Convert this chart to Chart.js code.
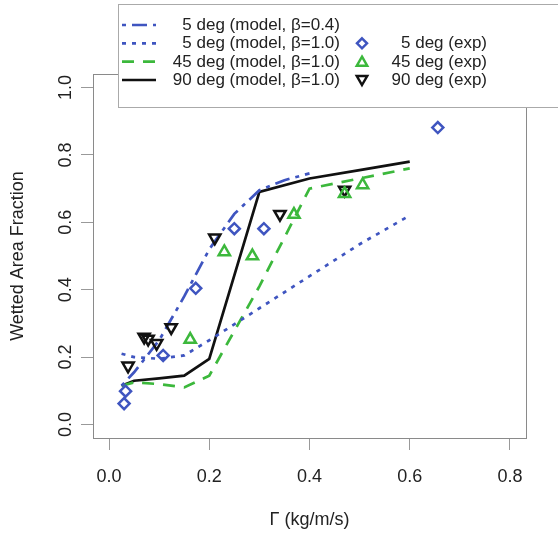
<!DOCTYPE html>
<html><head><meta charset="utf-8">
<script src="https://cdn.jsdelivr.net/npm/chart.js@4.4.1/dist/chart.umd.min.js"></script>
<style>
html,body{margin:0;padding:0;background:#fff;overflow:hidden;}
#wrap{position:relative;width:558px;height:533px;}
#c{position:absolute;left:0;top:0;}
#legbox{position:absolute;left:118px;top:4px;width:460px;height:102px;border:1px solid #aaa;background:#fff;}
.lt{position:absolute;white-space:nowrap;line-height:18px;height:18px;font-family:"Liberation Sans",Arial,sans-serif;font-size:17px;color:#222;text-align:right;width:260px;}
#legsvg{position:absolute;left:0;top:0;}
</style></head>
<body><div id="wrap"><canvas id="c" width="558" height="533"></canvas><div id="legbox"></div><svg id="legsvg" width="558" height="120"></svg></div>
<script>
// ---------- data ----------
const xTickValues = [0.0, 0.2, 0.4, 0.6, 0.8];
const yTickValues = [0.0, 0.2, 0.4, 0.6, 0.8, 1.0];

// model curves (Γ grid)
const modelGamma = [0.025, 0.05, 0.1, 0.15, 0.2, 0.3, 0.4, 0.5, 0.6];
const model5degB04Gamma = [0.025, 0.05, 0.1, 0.15, 0.2, 0.25, 0.3, 0.35, 0.4];
const model5degB04 = [0.115, 0.155, 0.25, 0.38, 0.52, 0.625, 0.695, 0.725, 0.745];
const model5degB10 = [0.21, 0.20, 0.195, 0.205, 0.25, 0.345, 0.44, 0.535, 0.62];
const model45degB10 = [0.115, 0.125, 0.12, 0.11, 0.145, 0.41, 0.70, 0.73, 0.76];
const model90degB10 = [0.115, 0.13, 0.137, 0.145, 0.195, 0.69, 0.73, 0.755, 0.78];

// experiments
const exp5degGamma = [0.030, 0.033, 0.108, 0.173, 0.250, 0.309, 0.656];
const exp5deg      = [0.062, 0.099, 0.205, 0.404, 0.581, 0.581, 0.881];
const exp45degGamma = [0.162, 0.230, 0.286, 0.369, 0.470, 0.506];
const exp45deg      = [0.252, 0.512, 0.500, 0.623, 0.685, 0.711];
const exp90degGamma = [0.038, 0.070, 0.078, 0.095, 0.124, 0.211, 0.341, 0.470];
const exp90deg      = [0.174, 0.260, 0.254, 0.241, 0.288, 0.554, 0.624, 0.696];

const legendLineLabels = ["5 deg (model, \u03b2=0.4)", "5 deg (model, \u03b2=1.0)", "45 deg (model, \u03b2=1.0)", "90 deg (model, \u03b2=1.0)"];
const legendPointLabels = ["5 deg (exp)", "45 deg (exp)", "90 deg (exp)"];

// ---------- styles ----------
const BLUE = '#3f55c0', GREEN = '#3cb83c', BLACK = '#111111';
const DASH_DOTDASH = [4, 6, 15, 6], DASH_DOT = [4, 6], DASH_LONG = [12, 9];

const pts = (xs, ys) => xs.map((x, i) => ({x: x, y: ys[i]}));
const lineDs = (label, xs, ys, color, dash) => ({label, data: pts(xs, ys), showLine: true, pointRadius: 0,
  borderColor: color, borderWidth: 2.7, borderDash: dash, fill: false, tension: 0, order: 2});
const ptDs = (label, xs, ys, color, style, r, rot) => ({label, data: pts(xs, ys), showLine: false,
  pointStyle: style, pointRadius: r, pointRotation: rot, borderColor: color, pointBorderWidth: 2.5,
  pointBackgroundColor: 'rgba(0,0,0,0)', backgroundColor: 'rgba(0,0,0,0)', order: 1});

const boxPlugin = {
  id: 'box',
  afterDraw(chart) {
    const {ctx, chartArea: a} = chart;
    ctx.save();
    ctx.strokeStyle = '#8a8a8a';
    ctx.lineWidth = 1;
    ctx.strokeRect(Math.round(a.left) + 0.5, Math.round(a.top) + 0.5, Math.round(a.right - a.left), Math.round(a.bottom - a.top));
    ctx.restore();
  }
};

const font = {family: '"Liberation Sans", Arial, sans-serif', size: 18};

new Chart(document.getElementById('c'), {
  type: 'scatter',
  data: {
    datasets: [
      lineDs(legendLineLabels[0], model5degB04Gamma, model5degB04, BLUE, DASH_DOTDASH),
      lineDs(legendLineLabels[1], modelGamma, model5degB10, BLUE, DASH_DOT),
      lineDs(legendLineLabels[2], modelGamma, model45degB10, GREEN, DASH_LONG),
      lineDs(legendLineLabels[3], modelGamma, model90degB10, BLACK, []),
      ptDs(legendPointLabels[0], exp5degGamma, exp5deg, BLUE, 'rectRot', 5.5, 0),
      ptDs(legendPointLabels[1], exp45degGamma, exp45deg, GREEN, 'triangle', 6.5, 0),
      ptDs(legendPointLabels[2], exp90degGamma, exp90deg, BLACK, 'triangle', 6.5, 180)
    ]
  },
  options: {
    responsive: false, animation: false, devicePixelRatio: 1,
    layout: {padding: {left: 0, right: 32, top: 74, bottom: 0}},
    plugins: {legend: {display: false}, tooltip: {enabled: false}},
    scales: {
      x: {
        type: 'linear', min: -0.032, max: 0.832,
        afterBuildTicks: s => { s.ticks = xTickValues.map(v => ({value: v})); },
        afterFit: s => { s.height = 95; },
        grid: {drawOnChartArea: false, drawTicks: true, tickLength: 12, color: '#999', tickWidth: 1},
        border: {display: false},
        ticks: {font, color: '#222', padding: 16, maxRotation: 0, callback: v => Number(v).toFixed(1)},
        title: {display: true, text: '\u0393 (kg/m/s)', font, color: '#222', padding: {top: 0, bottom: 2}}
      },
      y: {
        type: 'linear', min: -0.04, max: 1.04,
        afterBuildTicks: s => { s.ticks = yTickValues.map(v => ({value: v})); },
        afterFit: s => { s.width = 93; },
        grid: {drawOnChartArea: false, drawTicks: true, tickLength: 12, color: '#999', tickWidth: 1},
        border: {display: false},
        ticks: {font, color: '#222', padding: 2, minRotation: 90, maxRotation: 90, crossAlign: 'center',
          callback: v => Number(v).toFixed(1)},
        title: {display: true, text: 'Wetted Area Fraction', font, color: '#222', padding: {top: 7, bottom: 0}}
      }
    }
  },
  plugins: [boxPlugin]
});

// ---------- legend (overlay box, as in the reference) ----------
const wrap = document.getElementById('wrap');
const svg = document.getElementById('legsvg');
const NS = 'http://www.w3.org/2000/svg';
const rowY = [25, 43.3, 61.7, 80];
const lineStyles = [[BLUE, DASH_DOTDASH], [BLUE, DASH_DOT], [GREEN, DASH_LONG], [BLACK, []]];
function addText(txt, rightX, cy) {
  const s = document.createElement('span');
  s.className = 'lt';
  s.textContent = txt;
  s.style.left = (rightX - 260) + 'px';
  s.style.top = (cy - 9) + 'px';
  wrap.appendChild(s);
}
legendLineLabels.forEach((lab, i) => {
  const l = document.createElementNS(NS, 'line');
  l.setAttribute('x1', 122); l.setAttribute('x2', 156);
  l.setAttribute('y1', rowY[i]); l.setAttribute('y2', rowY[i]);
  l.setAttribute('stroke', lineStyles[i][0]); l.setAttribute('stroke-width', 2.7);
  if (lineStyles[i][1].length) l.setAttribute('stroke-dasharray', lineStyles[i][1].join(' '));
  svg.appendChild(l);
  addText(lab, 340, rowY[i]);
});
const mx = 362;
// diamond
{
  const y = rowY[1], r = 5;
  const p = document.createElementNS(NS, 'polygon');
  p.setAttribute('points', `${mx},${y-r} ${mx+r},${y} ${mx},${y+r} ${mx-r},${y}`);
  p.setAttribute('fill', 'none'); p.setAttribute('stroke', BLUE); p.setAttribute('stroke-width', 2.5);
  svg.appendChild(p);
}
// triangle up
{
  const y = rowY[2] + 1, r = 6;
  const p = document.createElementNS(NS, 'polygon');
  p.setAttribute('points', `${mx},${y-r} ${mx+r*0.866},${y+r/2} ${mx-r*0.866},${y+r/2}`);
  p.setAttribute('fill', 'none'); p.setAttribute('stroke', GREEN); p.setAttribute('stroke-width', 2.5);
  svg.appendChild(p);
}
// triangle down
{
  const y = rowY[3] - 1, r = 6;
  const p = document.createElementNS(NS, 'polygon');
  p.setAttribute('points', `${mx},${y+r} ${mx+r*0.866},${y-r/2} ${mx-r*0.866},${y-r/2}`);
  p.setAttribute('fill', 'none'); p.setAttribute('stroke', BLACK); p.setAttribute('stroke-width', 2.5);
  svg.appendChild(p);
}
legendPointLabels.forEach((lab, i) => addText(lab, 487, rowY[i + 1]));
</script>
</body></html>
